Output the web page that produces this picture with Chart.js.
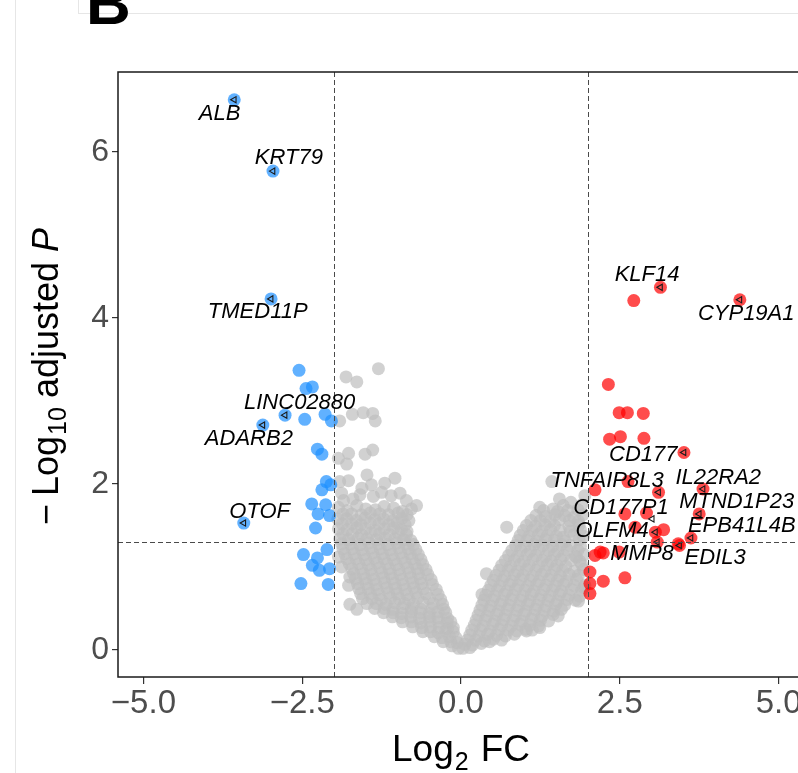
<!DOCTYPE html>
<html>
<head>
<meta charset="utf-8">
<script src="https://cdn.jsdelivr.net/npm/chart.js@4.4.1/dist/chart.umd.min.js"></script>
<style>
  html,body{margin:0;padding:0;background:#fff;overflow:hidden;width:798px;height:773px;}
  #c{position:absolute;left:0;top:0;}
  .fr{position:absolute;background:#e6e6e6;}
  #panelB{position:absolute;left:86px;top:-28px;font:bold 62px 'Liberation Sans',Arial,sans-serif;line-height:62px;color:#000;}
</style>
</head>
<body>
<canvas id="c" width="820" height="773"></canvas>
<div class="fr" style="left:15px;top:0;width:1px;height:773px;"></div>
<div class="fr" style="left:78px;top:0;width:1px;height:13px;"></div>
<div class="fr" style="left:78px;top:13px;width:720px;height:1px;"></div>
<div id="panelB">B</div>
<script>
// ---- data (log2 fold change, -log10 adjusted P) ----
const xTickValues = [-5, -2.5, 0, 2.5, 5];
const yTickValues = [0, 2, 4, 6];
const fcCutoff = 2;
const pCutoff = 1.301;

// non-significant genes (grey)
const grayPoints = [
  // left lobe
  [-1.93,1.72],[-1.79,1.68],[-1.64,1.74],[-1.50,1.70],[-1.35,1.69],[-1.21,1.73],[-1.06,1.71],[-0.92,1.67],[-0.78,1.70],
  [-1.86,1.64],[-1.72,1.64],[-1.57,1.63],[-1.43,1.65],[-1.28,1.64],[-1.14,1.63],[-0.99,1.65],[-0.85,1.63],
  [-1.94,1.58],[-1.80,1.58],[-1.65,1.56],[-1.51,1.59],[-1.36,1.57],[-1.22,1.58],[-1.07,1.56],[-0.93,1.59],[-0.82,1.56],
  [-1.87,1.52],[-1.72,1.52],[-1.58,1.51],[-1.43,1.53],[-1.29,1.52],[-1.14,1.51],[-1.00,1.53],[-0.88,1.51],
  [-1.93,1.46],[-1.79,1.45],[-1.64,1.47],[-1.50,1.46],[-1.35,1.44],[-1.21,1.46],[-1.06,1.47],[-0.94,1.45],[-0.85,1.43],
  [-1.86,1.40],[-1.71,1.40],[-1.57,1.39],[-1.42,1.41],[-1.28,1.40],[-1.13,1.39],[-0.99,1.41],[-0.86,1.39],
  [-1.91,1.34],[-1.77,1.33],[-1.62,1.35],[-1.48,1.34],[-1.33,1.33],[-1.19,1.35],[-1.04,1.34],[-0.90,1.33],[-0.79,1.32],
  [-1.88,1.28],[-1.74,1.28],[-1.59,1.27],[-1.45,1.29],[-1.30,1.28],[-1.16,1.27],[-1.01,1.29],[-0.87,1.28],[-0.75,1.27],
  [-1.86,1.22],[-1.71,1.22],[-1.56,1.21],[-1.42,1.23],[-1.27,1.22],[-1.12,1.21],[-0.98,1.23],[-0.83,1.22],[-0.71,1.21],
  [-1.83,1.16],[-1.68,1.16],[-1.53,1.15],[-1.39,1.17],[-1.24,1.16],[-1.09,1.15],[-0.95,1.17],[-0.80,1.16],[-0.67,1.15],
  [-1.80,1.10],[-1.65,1.10],[-1.50,1.09],[-1.36,1.11],[-1.21,1.10],[-1.06,1.09],[-0.92,1.11],[-0.77,1.10],[-0.63,1.09],
  [-1.76,1.04],[-1.61,1.04],[-1.46,1.03],[-1.32,1.05],[-1.17,1.04],[-1.02,1.03],[-0.88,1.05],[-0.73,1.04],[-0.60,1.03],
  [-1.72,0.98],[-1.57,0.98],[-1.42,0.97],[-1.28,0.99],[-1.13,0.98],[-0.98,0.97],[-0.84,0.99],[-0.69,0.98],[-0.55,0.97],
  [-1.69,0.92],[-1.54,0.92],[-1.40,0.91],[-1.25,0.93],[-1.11,0.92],[-0.96,0.91],[-0.81,0.93],[-0.67,0.92],[-0.52,0.91],
  [-1.66,0.86],[-1.51,0.86],[-1.37,0.85],[-1.22,0.87],[-1.08,0.86],[-0.93,0.85],[-0.79,0.87],[-0.64,0.86],[-0.47,0.85],
  [-1.63,0.80],[-1.49,0.80],[-1.34,0.79],[-1.20,0.81],[-1.05,0.80],[-0.91,0.79],[-0.76,0.81],[-0.62,0.80],[-0.45,0.79],
  [-1.61,0.74],[-1.46,0.74],[-1.32,0.73],[-1.17,0.75],[-1.03,0.74],[-0.88,0.73],[-0.74,0.75],[-0.59,0.74],[-0.39,0.73],
  [-1.58,0.68],[-1.43,0.68],[-1.29,0.67],[-1.14,0.69],[-1.00,0.68],[-0.85,0.67],[-0.71,0.69],[-0.55,0.68],[-0.36,0.67],
  [-1.55,0.62],[-1.40,0.62],[-1.26,0.61],[-1.11,0.63],[-0.97,0.62],[-0.82,0.61],[-0.68,0.63],[-0.50,0.62],[-0.32,0.61],
  [-1.48,0.56],[-1.33,0.56],[-1.18,0.55],[-1.04,0.57],[-0.89,0.56],[-0.75,0.55],[-0.60,0.57],[-0.44,0.56],[-0.29,0.55],
  [-1.36,0.50],[-1.21,0.50],[-1.07,0.49],[-0.92,0.51],[-0.78,0.50],[-0.63,0.49],[-0.46,0.50],[-0.27,0.49],
  [-1.22,0.45],[-1.07,0.45],[-0.93,0.44],[-0.78,0.46],[-0.64,0.45],[-0.50,0.44],[-0.36,0.46],[-0.24,0.45],
  [-1.08,0.40],[-0.94,0.39],[-0.79,0.40],[-0.65,0.38],[-0.50,0.40],[-0.36,0.39],[-0.21,0.38],
  [-0.92,0.34],[-0.78,0.34],[-0.63,0.33],[-0.49,0.35],[-0.35,0.34],[-0.22,0.33],[-0.16,0.34],
  [-0.76,0.28],[-0.62,0.27],[-0.48,0.28],[-0.34,0.27],[-0.21,0.26],[-0.12,0.27],
  [-0.60,0.22],[-0.48,0.22],[-0.36,0.21],[-0.24,0.23],[-0.12,0.22],
  [-0.42,0.16],[-0.30,0.15],[-0.18,0.16],[-0.08,0.15],
  [-0.28,0.10],[-0.16,0.10],[-0.06,0.09],
  [-0.14,0.05],[-0.04,0.02],
  // right lobe
  [1.24,1.72],[1.45,1.70],[1.61,1.74],[1.73,1.78],[1.90,1.75],
  [1.30,1.68],[1.52,1.67],[1.68,1.68],[1.84,1.69],
  [1.18,1.62],[1.33,1.61],[1.48,1.63],[1.63,1.62],[1.78,1.60],[1.92,1.63],
  [1.10,1.56],[1.25,1.56],[1.40,1.55],[1.55,1.57],[1.71,1.56],[1.85,1.55],
  [1.03,1.50],[1.17,1.49],[1.32,1.51],[1.47,1.50],[1.70,1.49],[1.86,1.51],
  [0.98,1.44],[1.12,1.44],[1.27,1.43],[1.41,1.45],[1.56,1.44],[1.72,1.43],[1.88,1.45],
  [0.93,1.38],[1.07,1.37],[1.22,1.39],[1.36,1.38],[1.50,1.37],[1.78,1.39],[1.93,1.37],
  [0.90,1.32],[1.04,1.32],[1.19,1.31],[1.33,1.33],[1.47,1.32],[1.64,1.31],[1.86,1.33],
  [0.86,1.26],[1.00,1.25],[1.15,1.27],[1.29,1.26],[1.44,1.25],[1.58,1.27],[1.72,1.26],[1.88,1.25],
  [0.80,1.20],[0.94,1.20],[1.09,1.19],[1.23,1.21],[1.38,1.20],[1.52,1.19],[1.67,1.21],[1.84,1.20],
  [0.75,1.14],[0.89,1.13],[1.04,1.15],[1.18,1.14],[1.33,1.13],[1.47,1.15],[1.62,1.14],[1.80,1.13],[1.94,1.15],
  [0.70,1.08],[0.84,1.08],[0.99,1.07],[1.13,1.09],[1.28,1.08],[1.42,1.07],[1.57,1.09],[1.73,1.08],[1.87,1.07],
  [0.64,1.02],[0.78,1.01],[0.93,1.03],[1.07,1.02],[1.22,1.01],[1.36,1.03],[1.51,1.02],[1.65,1.01],[1.90,1.03],
  [0.60,0.96],[0.74,0.96],[0.89,0.95],[1.03,0.97],[1.18,0.96],[1.32,0.95],[1.47,0.97],[1.60,0.96],[1.78,0.95],[1.93,0.97],
  [0.55,0.90],[0.69,0.89],[0.84,0.91],[0.98,0.90],[1.13,0.89],[1.27,0.91],[1.42,0.90],[1.56,0.89],[1.70,0.91],[1.85,0.90],
  [0.51,0.84],[0.65,0.84],[0.80,0.83],[0.94,0.85],[1.09,0.84],[1.23,0.83],[1.38,0.85],[1.52,0.84],[1.66,0.83],[1.82,0.85],
  [0.47,0.78],[0.61,0.77],[0.76,0.79],[0.90,0.78],[1.05,0.77],[1.19,0.79],[1.34,0.78],[1.48,0.77],[1.62,0.79],[1.78,0.78],[1.93,0.76],
  [0.43,0.72],[0.57,0.72],[0.72,0.71],[0.86,0.73],[1.01,0.72],[1.15,0.71],[1.30,0.73],[1.44,0.72],[1.58,0.71],[1.74,0.73],[1.90,0.72],
  [0.39,0.66],[0.53,0.65],[0.68,0.67],[0.82,0.66],[0.97,0.65],[1.11,0.67],[1.26,0.66],[1.40,0.65],[1.55,0.67],[1.70,0.66],[1.87,0.65],
  [0.36,0.60],[0.50,0.60],[0.65,0.59],[0.79,0.61],[0.94,0.60],[1.08,0.59],[1.23,0.61],[1.37,0.60],[1.52,0.59],[1.67,0.61],[1.80,0.60],
  [0.33,0.54],[0.47,0.53],[0.62,0.55],[0.76,0.54],[0.91,0.53],[1.05,0.55],[1.20,0.54],[1.34,0.53],[1.49,0.55],[1.63,0.54],
  [0.30,0.48],[0.44,0.48],[0.59,0.47],[0.73,0.49],[0.88,0.48],[1.02,0.47],[1.17,0.49],[1.31,0.48],[1.46,0.47],[1.58,0.49],
  [0.27,0.42],[0.41,0.41],[0.56,0.43],[0.70,0.42],[0.85,0.41],[0.99,0.43],[1.14,0.42],[1.28,0.41],[1.45,0.43],
  [0.24,0.36],[0.38,0.36],[0.53,0.35],[0.67,0.37],[0.82,0.36],[0.96,0.35],[1.11,0.37],[1.25,0.36],[1.38,0.35],
  [0.21,0.30],[0.35,0.29],[0.50,0.31],[0.64,0.30],[0.79,0.29],[0.93,0.31],[1.08,0.30],[1.22,0.29],
  [0.17,0.24],[0.31,0.24],[0.46,0.23],[0.60,0.25],[0.74,0.24],[0.88,0.23],[1.02,0.25],[1.12,0.24],
  [0.14,0.18],[0.28,0.17],[0.42,0.19],[0.56,0.18],[0.70,0.17],[0.84,0.19],
  [0.10,0.12],[0.23,0.12],[0.37,0.11],[0.51,0.13],[0.64,0.12],
  [0.06,0.07],[0.18,0.06],[0.32,0.08],[0.45,0.10],
  [0.03,0.02],[0.14,0.03],
  // scattered grey genes
  [-1.30,3.39],[-1.81,3.29],[-1.64,3.23],
  [-1.91,2.76],[-1.71,2.84],[-1.54,2.86],[-1.39,2.85],[-1.35,2.76],
  [-1.93,2.31],[-1.77,2.37],[-1.80,2.24],[-1.51,2.36],[-1.39,2.41],
  [-1.91,2.03],[-1.77,2.04],[-1.88,1.89],[-1.48,2.11],[-1.56,1.95],[-1.41,1.99],[-1.20,2.01],[-1.04,2.07],[-0.96,1.89],
  [-1.59,1.87],[-1.38,1.85],[-1.25,1.90],[-1.10,1.86],[-1.70,1.82],[-1.85,1.80],[-0.86,1.80],[-0.70,1.74],
  [-1.93,1.12],[-1.75,0.88],[-1.77,0.78],[-1.75,0.55],[-1.64,0.49],[-1.88,1.00],
  [1.43,2.03],[0.72,1.48],[1.61,1.36],[1.82,1.12],[1.85,0.59],[1.95,0.78],[1.53,0.41],[1.24,0.27],[1.03,0.23],
  [0.40,0.92],[0.33,0.67],[1.55,1.82],[1.95,1.86]
];

// significantly down-regulated genes (blue)
const downPoints = [
  [-2.55,3.37],[-2.44,3.15],[-2.34,3.17],[-2.46,2.78],[-2.14,2.84],[-2.04,2.76],[-2.26,2.42],[-2.19,2.36],
  [-2.12,2.03],[-2.19,1.93],[-2.05,1.99],[-2.35,1.76],[-2.13,1.75],[-2.25,1.64],[-2.07,1.62],[-2.29,1.47],
  [-2.11,1.21],[-2.48,1.15],[-2.26,1.11],[-2.34,1.02],[-2.23,0.96],[-2.07,0.98],[-2.52,0.80],[-2.09,0.79]
];

// significantly up-regulated genes (red)
const upPoints = [
  [2.32,3.20],[2.49,2.86],[2.62,2.86],[2.87,2.85],[2.34,2.54],[2.51,2.57],[2.88,2.55],[2.72,4.21],
  [2.11,1.93],[2.63,2.03],[2.58,1.64],[2.92,1.65],[2.74,1.48],[3.19,1.45],[2.19,1.18],[2.24,1.17],
  [2.11,1.14],[2.49,1.18],[3.42,1.28],[2.03,0.94],[2.24,0.83],[2.58,0.87],[2.03,0.80],[2.03,0.68]
];

// labelled genes
const labelGenes = ['ALB','KRT79','TMED11P','LINC02880','ADARB2','OTOF','KLF14','CYP19A1','CD177','TNFAIP8L3','IL22RA2','MTND1P23','EPB41L4B','EDIL3','CD177P1','OLFM4','MMP8'];
const labelFC    = [-3.57,-2.96,-2.99,-2.77,-3.12,-3.42, 3.14, 4.39, 3.51, 3.11, 3.81, 3.75, 3.62, 3.44, 3.01, 3.06, 3.09];
const labelP     = [ 6.63, 5.77, 4.23, 2.83, 2.71, 1.53, 4.37, 4.22, 2.38, 1.90, 1.94, 1.64, 1.35, 1.26, 1.58, 1.42, 1.30];
const labelDot   = [true,true,true,true,true,true,true,true,true,true,true,true,true,true,false,true,true];
const textFC     = [-3.80,-2.71,-3.20,-2.54,-3.34,-3.17, 2.93, 4.49, 2.87, 2.30, 4.05, 4.34, 4.42, 4.00, 2.52, 2.38, 2.85];
const textP      = [ 6.46, 5.93, 4.07, 2.98, 2.54, 1.66, 4.52, 4.05, 2.35, 2.04, 2.08, 1.78, 1.49, 1.11, 1.71, 1.43, 1.16];

// ---- build datasets ----
const toXY = a => a.map(p => ({x: p[0], y: p[1]}));
const labeledDown = [], labeledUp = [], labeledAll = [];
labelGenes.forEach((g, i) => {
  const pt = {x: labelFC[i], y: labelP[i]};
  labeledAll.push(pt);
  if (!labelDot[i]) return;
  if (labelFC[i] < 0) labeledDown.push(pt); else labeledUp.push(pt);
});

const FONT = "'Liberation Sans', Arial, Helvetica, sans-serif";
const R = 6.5;

const refLines = {
  id: 'refLines',
  afterDatasetsDraw(chart) {
    const {ctx, chartArea: a, scales: {x, y}} = chart;
    ctx.save();
    ctx.beginPath();
    ctx.rect(a.left, a.top, a.right - a.left, a.bottom - a.top);
    ctx.clip();
    ctx.strokeStyle = '#4a4a4a';
    ctx.lineWidth = 1;
    ctx.setLineDash([5, 3]);
    [-fcCutoff, fcCutoff].forEach(v => {
      const px = Math.round(x.getPixelForValue(v)) + 0.5;
      ctx.beginPath(); ctx.moveTo(px, a.top); ctx.lineTo(px, a.bottom); ctx.stroke();
    });
    const py = Math.round(y.getPixelForValue(pCutoff)) + 0.5;
    ctx.beginPath(); ctx.moveTo(a.left, py); ctx.lineTo(a.right, py); ctx.stroke();
    ctx.restore();
  }
};

function drawRich(ctx, parts, cx, baseY) {
  let w = 0;
  parts.forEach(p => { ctx.font = (p.it ? 'italic ' : '') + p.s + 'px ' + FONT; p.w = ctx.measureText(p.t).width + (p.gap || 0); w += p.w; });
  let xx = cx - w / 2;
  parts.forEach(p => {
    ctx.font = (p.it ? 'italic ' : '') + p.s + 'px ' + FONT;
    ctx.fillText(p.t, xx, baseY + (p.dy || 0));
    xx += p.w;
  });
}

const decor = {
  id: 'decor',
  afterDraw(chart) {
    const {ctx, chartArea: a, scales: {x, y}} = chart;
    ctx.save();
    // panel border
    ctx.strokeStyle = '#1a1a1a';
    ctx.lineWidth = 1.5;
    ctx.setLineDash([]);
    ctx.strokeRect(a.left, a.top, a.right - a.left, a.bottom - a.top);
    // gene labels
    ctx.fillStyle = '#000';
    ctx.font = 'italic 22px ' + FONT;
    ctx.textAlign = 'center';
    ctx.textBaseline = 'middle';
    labelGenes.forEach((g, i) => {
      ctx.fillText(g, x.getPixelForValue(textFC[i]), y.getPixelForValue(textP[i]));
    });
    // axis titles
    ctx.textAlign = 'left';
    ctx.textBaseline = 'alphabetic';
    ctx.fillStyle = '#000';
    drawRich(ctx, [{t:'Log', s:37, gap:1}, {t:'2', s:25, dy:9, gap:12}, {t:'FC', s:37}], x.getPixelForValue(0), 761);
    ctx.save();
    ctx.translate(58, (a.top + a.bottom) / 2 + 2);
    ctx.rotate(-Math.PI / 2);
    drawRich(ctx, [{t:'\u2212', s:36, gap:8}, {t:'Log', s:36, gap:1}, {t:'10', s:25, dy:8, gap:9}, {t:'adjusted', s:36, gap:10}, {t:'P', s:36, it:true}], 0, 0);
    ctx.restore();
    ctx.restore();
  }
};

new Chart(document.getElementById('c'), {
  type: 'scatter',
  data: {
    datasets: [
      {label: 'NS', data: toXY(grayPoints), backgroundColor: 'rgba(190,190,190,0.7)', pointRadius: R, borderWidth: 0, order: 4},
      {label: 'Down', data: toXY(downPoints).concat(labeledDown), backgroundColor: 'rgba(30,144,255,0.7)', pointRadius: R, borderWidth: 0, order: 3},
      {label: 'Up', data: toXY(upPoints).concat(labeledUp), backgroundColor: 'rgba(255,0,0,0.7)', pointRadius: R, borderWidth: 0, order: 2},
      {label: 'Labelled', data: labeledAll, pointStyle: 'triangle', rotation: -90, pointRadius: 3.6, backgroundColor: 'rgba(0,0,0,0)', borderColor: '#1a1a1a', borderWidth: 1.1, order: 1}
    ]
  },
  options: {
    responsive: false,
    animation: false,
    devicePixelRatio: 1,
    events: [],
    layout: {padding: {left: 0, top: 72, right: 16, bottom: 0}},
    plugins: {legend: {display: false}, tooltip: {enabled: false}},
    scales: {
      x: {
        type: 'linear', min: -5.4, max: 5.4,
        afterBuildTicks: s => { s.ticks = xTickValues.map(v => ({value: v})); },
        afterFit: s => { s.height = 96; },
        border: {display: false},
        grid: {drawOnChartArea: false, drawTicks: true, tickLength: 7, color: '#333', lineWidth: 1.2},
        ticks: {color: '#4d4d4d', font: {family: FONT, size: 33}, padding: 0, maxRotation: 0, autoSkip: false,
          callback: v => (v < 0 ? '\u2212' : '') + Math.abs(v).toFixed(1)}
      },
      y: {
        type: 'linear', min: -0.325, max: 6.964,
        afterBuildTicks: s => { s.ticks = yTickValues.map(v => ({value: v})); },
        afterFit: s => { s.width = 118; },
        border: {display: false},
        grid: {drawOnChartArea: false, drawTicks: true, tickLength: 6, color: '#333', lineWidth: 1.2},
        ticks: {color: '#4d4d4d', font: {family: FONT, size: 32}, padding: 3,
          callback: v => String(v)}
      }
    }
  },
  plugins: [refLines, decor]
});
</script>
</body>
</html>
